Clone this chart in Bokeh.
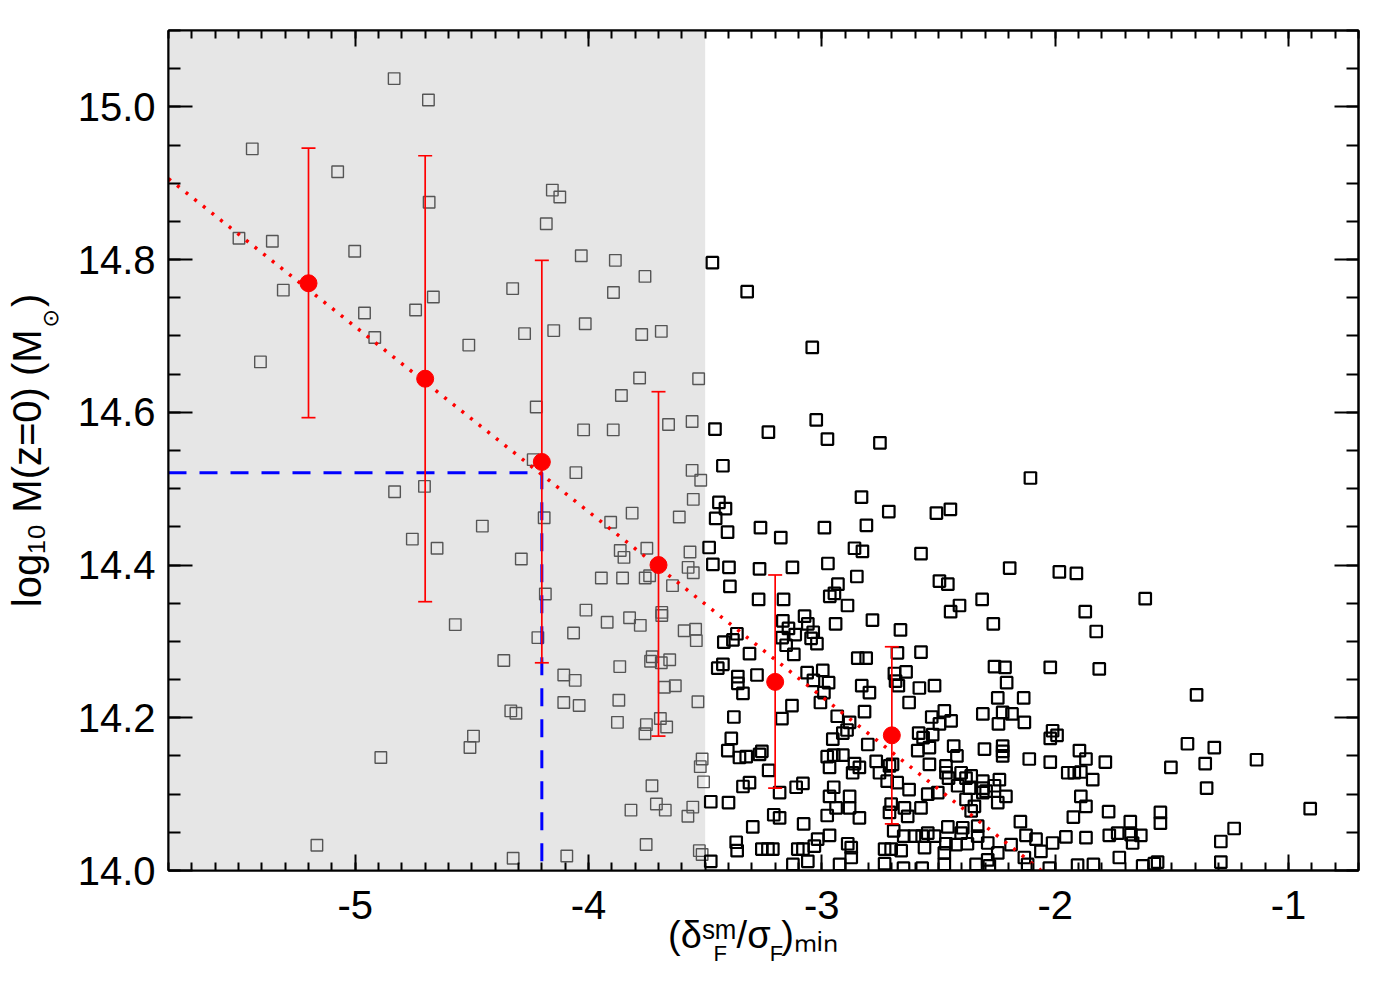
import numpy as np
from bokeh.plotting import figure
from bokeh.models import (Range1d, LinearAxis, FixedTicker, CustomJSTickFormatter,
                          BoxAnnotation, Whisker, TeeHead, Label, ColumnDataSource)
from bokeh.embed import file_html
from bokeh.resources import INLINE

# ---------------- data ----------------
x_lo, x_hi = -5.8, -0.70
y_lo, y_hi = 14.0, 15.1
shade_xmax = -3.5

gray_x = [-4.833, -4.686, -5.441, -5.075, -4.683, -4.155, -4.123, -4.181, -5.498, -5.355,
          -5.002, -4.031, -3.885, -3.758, -5.308, -4.325, -3.893, -4.665, -4.741, -4.960,
          -4.916, -4.513, -4.274, -4.149, -4.014, -3.772, -3.688, -5.406, -3.781, -3.528,
          -3.859, -4.224, -4.021, -3.894, -3.657, -3.556,
          -4.237, -4.054, -4.831, -4.703, -4.190, -4.455, -4.755, -4.649, -4.288, -3.905,
          -3.813, -3.556, -3.519, -3.551, -3.611, -3.864, -3.848, -3.750, -3.565, -3.573,
          -3.551, -3.945, -3.854, -3.757, -3.738, -3.640, -4.185, -4.011, -3.920, -3.824,
          -3.778, -3.686, -3.686, -3.590, -3.541, -3.538, -4.571, -4.064, -4.217, -4.363,
          -3.727, -3.734, -3.688, -3.652, -3.866, -4.106, -4.057, -3.675, -3.628, -3.531,
          -4.106, -4.040, -3.870, -4.333, -4.311, -3.876, -3.752, -3.692, -3.665, -3.758,
          -4.493, -4.508, -4.890, -3.513, -3.521, -3.507, -3.728, -3.818, -3.709, -3.671,
          -3.553, -3.574, -5.164, -4.323, -4.093, -3.753, -3.525, -3.513]
gray_y = [15.037, 15.009, 14.945, 14.915, 14.875, 14.891, 14.882, 14.847, 14.828, 14.824,
          14.811, 14.805, 14.799, 14.778, 14.760, 14.762, 14.757, 14.751, 14.734, 14.730,
          14.698, 14.688, 14.703, 14.707, 14.716, 14.702, 14.706, 14.666, 14.645, 14.644,
          14.622, 14.607, 14.577, 14.577, 14.584, 14.588,
          14.538, 14.521, 14.496, 14.503, 14.462, 14.451, 14.434, 14.422, 14.408, 14.456,
          14.468, 14.524, 14.511, 14.486, 14.463, 14.419, 14.410, 14.422, 14.417, 14.397,
          14.390, 14.383, 14.383, 14.383, 14.386, 14.373, 14.362, 14.341, 14.325, 14.331,
          14.321, 14.338, 14.334, 14.314, 14.316, 14.301, 14.322, 14.311, 14.305, 14.275,
          14.280, 14.274, 14.272, 14.276, 14.267, 14.256, 14.249, 14.240, 14.242, 14.221,
          14.220, 14.216, 14.223, 14.209, 14.206, 14.194, 14.191, 14.199, 14.188, 14.179,
          14.176, 14.161, 14.148, 14.146, 14.136, 14.116, 14.111, 14.079, 14.087, 14.079,
          14.083, 14.071, 14.033, 14.016, 14.019, 14.034, 14.026, 14.021]

black_x = [-3.469, -3.458, -3.476, -3.476,
           -3.320, -3.041, -3.229, -3.024, -2.976, -2.751,
           -3.424, -3.441, -3.413, -3.455, -3.404, -3.263, -3.176, -2.989, -2.830, -2.713,
           -2.809, -2.860, -2.826, -2.575, -3.483, -3.467, -3.398, -3.267, -3.126, -2.974,
           -2.850, -2.931, -2.946, -2.966, -2.890, -3.394, -3.271, -3.164, -2.941, -2.783,
           -2.663, -2.575, -2.676, -3.167, -3.074, -3.143, -3.114, -3.170, -3.060, -3.037,
           -3.046, -3.021, -3.153, -3.120, -3.420, -3.381, -3.364, -3.310,
           -2.846, -2.810, -3.446, -3.424, -3.360, -3.360, -3.278, -3.338, -3.063, -3.036,
           -2.996, -2.971, -2.991, -3.006, -3.128, -3.171, -3.377, -2.829, -2.796, -2.689,
           -2.684, -2.639, -2.672, -2.582, -2.626, -2.934, -2.881, -2.892, -2.910, -2.817,
           -2.953, -2.803, -2.585, -2.566, -2.589, -3.388, -3.403, -3.353, -3.324, -3.267,
           -3.257, -3.228, -2.977, -2.949, -2.910, -2.967, -2.860, -2.839, -2.868, -2.767,
           -2.753, -2.710, -2.697, -2.720, -2.677, -2.626, -2.575, -3.338, -3.310, -3.110,
           -3.081, -3.181, -2.949, -2.967, -2.939, -2.881, -2.881, -2.977, -2.839, -2.703,
           -2.710, -2.646, -2.632, -3.400, -3.206, -3.181, -3.296, -3.078, -2.967, -3.018,
           -3.032, -2.692, -2.649, -2.603, -2.660, -2.703, -2.570, -2.560, -3.367, -3.363,
           -3.257, -3.231, -3.210, -3.103, -3.060, -3.081, -2.889, -2.874, -2.874, -2.731,
           -2.731, -3.124, -2.924, -2.650, -2.570,
           -2.106, -2.509, -2.449, -2.195, -1.982, -1.909, -1.614, -2.496, -2.460, -2.313,
           -2.410, -2.448, -1.871, -1.824, -2.265,
           -2.260, -2.215, -2.021, -1.811, -2.517, -2.208, -2.246, -2.135, -2.310, -2.225,
           -2.185, -2.243, -2.132, -2.475, -2.446, -2.529, -2.496, -2.525, -2.011, -1.992,
           -2.021, -2.435, -2.421, -2.539, -2.303, -2.225, -2.225, -2.225, -2.111, -2.021,
           -1.896, -1.868, -1.785, -1.946, -1.918, -1.890, -1.839, -2.468, -2.468, -2.539,
           -2.457, -2.403, -2.382, -2.360, -2.418, -2.367, -2.310, -2.296, -2.239, -2.260,
           -2.211, -2.246, -2.503, -2.546, -2.382, -2.360, -2.346, -2.310, -2.310, -1.890,
           -1.868, -1.771, -1.922, -2.149, -2.460, -2.396, -2.332, -2.403, -2.332, -2.517,
           -2.546, -2.125, -2.082, -1.954, -1.868, -1.768, -1.732, -1.678, -1.675, -1.633,
           -1.668, -2.468, -2.425, -2.376, -2.289, -2.246, -2.189, -2.061, -2.011, -2.475,
           -2.475, -2.339, -2.289, -2.282, -2.132, -2.118, -2.025, -1.904, -1.836, -1.725,
           -1.625, -1.575,
           -1.394, -1.433, -1.318, -1.357, -1.504, -1.137, -1.351, -0.907, -1.549, -1.549,
           -1.233, -1.290, -1.290, -1.561]
black_y = [14.796, 14.578, 14.090, 14.012,
           14.758, 14.685, 14.574, 14.590, 14.565, 14.560,
           14.530, 14.482, 14.474, 14.461, 14.443, 14.449, 14.436, 14.449, 14.489, 14.470,
           14.452, 14.422, 14.418, 14.415, 14.423, 14.401, 14.397, 14.395, 14.397, 14.402,
           14.385, 14.375, 14.363, 14.359, 14.347, 14.372, 14.355, 14.355, 14.323, 14.328,
           14.315, 14.286, 14.285, 14.327, 14.333, 14.317, 14.309, 14.305, 14.323, 14.312,
           14.304, 14.297, 14.295, 14.283, 14.299, 14.302, 14.310, 14.284,
           14.278, 14.278, 14.265, 14.270, 14.254, 14.245, 14.256, 14.232, 14.259, 14.249,
           14.262, 14.246, 14.233, 14.220, 14.216, 14.199, 14.201, 14.242, 14.233, 14.258,
           14.248, 14.260, 14.242, 14.239, 14.220, 14.202, 14.194, 14.184, 14.180, 14.208,
           14.172, 14.165, 14.180, 14.174, 14.157, 14.173, 14.157, 14.148, 14.149, 14.152,
           14.156, 14.131, 14.149, 14.151, 14.151, 14.135, 14.140, 14.135, 14.128, 14.143,
           14.128, 14.137, 14.139, 14.117, 14.115, 14.106, 14.082, 14.110, 14.115, 14.109,
           14.114, 14.102, 14.109, 14.097, 14.082, 14.097, 14.082, 14.072, 14.069, 14.087,
           14.076, 14.082, 14.071, 14.089, 14.073, 14.069, 14.057, 14.061, 14.046, 14.041,
           14.032, 14.052, 14.045, 14.045, 14.026, 14.028, 14.045, 14.030, 14.037, 14.026,
           14.028, 14.028, 14.028, 14.028, 14.012, 14.028, 14.035, 14.030, 14.017, 14.028,
           14.009, 14.008, 14.008, 14.003, 14.003,
           14.514, 14.468, 14.473, 14.396, 14.391, 14.389, 14.356, 14.379, 14.375, 14.355,
           14.347, 14.339, 14.339, 14.313, 14.323,
           14.267, 14.266, 14.266, 14.264, 14.242, 14.246, 14.226, 14.226, 14.205, 14.207,
           14.205, 14.192, 14.194, 14.209, 14.196, 14.201, 14.192, 14.178, 14.183, 14.177,
           14.173, 14.163, 14.150, 14.161, 14.159, 14.163, 14.156, 14.150, 14.146, 14.142,
           14.157, 14.146, 14.142, 14.128, 14.128, 14.129, 14.119, 14.137, 14.128, 14.139,
           14.121, 14.128, 14.121, 14.124, 14.111, 14.108, 14.117, 14.104, 14.119, 14.111,
           14.097, 14.089, 14.102, 14.100, 14.093, 14.078, 14.084, 14.102, 14.108, 14.097,
           14.084, 14.077, 14.070, 14.064, 14.057, 14.056, 14.058, 14.049, 14.045, 14.045,
           14.049, 14.046, 14.041, 14.044, 14.043, 14.046, 14.049, 14.064, 14.047, 14.046,
           14.036, 14.035, 14.034, 14.035, 14.036, 14.023, 14.034, 14.025, 14.036, 14.023,
           14.008, 14.008, 14.014, 14.006, 14.017, 14.008, 14.003, 14.007, 14.008, 14.017,
           14.006, 14.009,
           14.230, 14.166, 14.161, 14.140, 14.135, 14.145, 14.108, 14.081, 14.076, 14.062,
           14.055, 14.038, 14.011, 14.011]

bin_x = [-5.2, -4.7, -4.2, -3.7, -3.2, -2.7]
bin_y = [14.769, 14.644, 14.535, 14.400, 14.247, 14.177]
bin_hi = [14.946, 14.936, 14.799, 14.627, 14.387, 14.293]
bin_lo = [14.593, 14.352, 14.272, 14.176, 14.108, 14.061]

fit_x = [-5.8, -2.06]
fit_y = [14.906, 14.0]

ref_x = [-5.8, -4.2, -4.2]
ref_y = [14.521, 14.521, 14.0]

x_ticks = [-5, -4, -3, -2, -1]
y_ticks = [14.0, 14.2, 14.4, 14.6, 14.8, 15.0]

NB = "\u00a0"
x_title = "(δˢᵐ/σ" + NB + ")ₘᵢₙ" + NB * 2
x_title_sub = "F" + NB * 7 + "F"
y_title = "log₁₀ M(z=0) (M" + NB * 2 + ")"
y_title_sub = "⊙"

# ---------------- figure ----------------
FONT = "Liberation Sans"
p = figure(width=1388, height=988, x_range=Range1d(x_lo, x_hi), y_range=Range1d(y_lo, y_hi),
           output_backend="svg", toolbar_location=None, x_axis_type=None, y_axis_type=None,
           min_border_left=168, min_border_right=30, min_border_top=30, min_border_bottom=118)
p.grid.visible = False
p.outline_line_color = "black"
p.outline_line_width = 2
p.background_fill_color = "white"
p.border_fill_color = "white"

x_minor = [round(v, 1) for v in np.arange(-5.8, -0.69, 0.1)]
y_minor = [round(v, 2) for v in np.arange(14.0, 15.101, 0.05)]

def make_axis(kind, show_labels):
    ax = LinearAxis()
    if kind == "x":
        ax.ticker = FixedTicker(ticks=x_ticks, minor_ticks=x_minor)
        ax.major_tick_in = 16
        ax.minor_tick_in = 8
        ax.formatter = CustomJSTickFormatter(code="return tick.toFixed(0);")
        ax.major_label_standoff = 20
    else:
        ax.ticker = FixedTicker(ticks=y_ticks, minor_ticks=y_minor)
        ax.major_tick_in = 24
        ax.minor_tick_in = 12
        ax.formatter = CustomJSTickFormatter(code="return tick.toFixed(1);")
        ax.major_label_standoff = 13
    ax.major_tick_out = 0
    ax.minor_tick_out = 0
    ax.axis_line_width = 2
    ax.major_tick_line_width = 2
    ax.minor_tick_line_width = 2
    ax.major_label_text_font = FONT
    ax.major_label_text_font_size = "40px"
    ax.major_label_text_color = "black"
    ax.axis_label_text_font = FONT
    ax.axis_label_text_font_style = "normal"
    ax.axis_label_text_color = "black"
    if not show_labels:
        ax.formatter = CustomJSTickFormatter(code="return '';")
        ax.major_label_text_font_size = "0px"
        ax.major_label_standoff = 0
    return ax

xax = make_axis("x", True)
xax.axis_label = x_title
xax.axis_label_text_font_size = "38px"
xax.axis_label_standoff = -8
yax = make_axis("y", True)
yax.axis_label = y_title
yax.axis_label_text_font_size = "40px"
yax.axis_label_standoff = 26
p.add_layout(xax, "below")
p.add_layout(yax, "left")
p.add_layout(make_axis("x", False), "above")
p.add_layout(make_axis("y", False), "right")

# shaded region
p.add_layout(BoxAnnotation(right=shade_xmax, fill_color="#e6e6e6", fill_alpha=1.0,
                           line_color=None, level="underlay"))

# scatter
p.scatter(gray_x, gray_y, marker="square", size=11.5, fill_color=None,
          line_color="#555555", line_width=1.4)
p.scatter(black_x, black_y, marker="square", size=11.5, fill_color=None,
          line_color="black", line_width=2.2)

# reference dashed lines
p.line(ref_x, ref_y, line_color="#0000ff", line_width=3, line_dash="18 13")

# fit dotted line
p.line(fit_x, fit_y, line_color="red", line_width=3.5, line_dash="3 8")

# error bars
src = ColumnDataSource(dict(x=bin_x, y=bin_y, hi=bin_hi, lo=bin_lo))
p.add_layout(Whisker(source=src, base="x", upper="hi", lower="lo", dimension="height",
                     line_color="red", line_width=1.7, level="annotation",
                     upper_head=TeeHead(size=14, line_color="red", line_width=1.7),
                     lower_head=TeeHead(size=14, line_color="red", line_width=1.7)))
p.scatter("x", "y", source=src, marker="circle", size=17, fill_color="red", line_color="red")

# subscript pieces of the axis titles: anchored at the frame corner (x_lo, y_lo) with pixel
# offsets, placed in side panels so that they are not clipped to the frame
p.add_layout(Label(x=x_lo, y=y_lo, x_offset=545, y_offset=-83, text=x_title_sub,
                   text_align="left", text_baseline="alphabetic", text_font=FONT,
                   text_font_size="22px", text_color="black"), "below")
p.add_layout(Label(x=x_lo, y=y_lo, x_offset=-118, y_offset=543, text=y_title_sub,
                   angle=np.pi / 2, text_align="left", text_baseline="alphabetic",
                   text_font="DejaVu Sans", text_font_size="22px", text_color="black"), "above")

open("out.html", "w").write(file_html(p, INLINE))
